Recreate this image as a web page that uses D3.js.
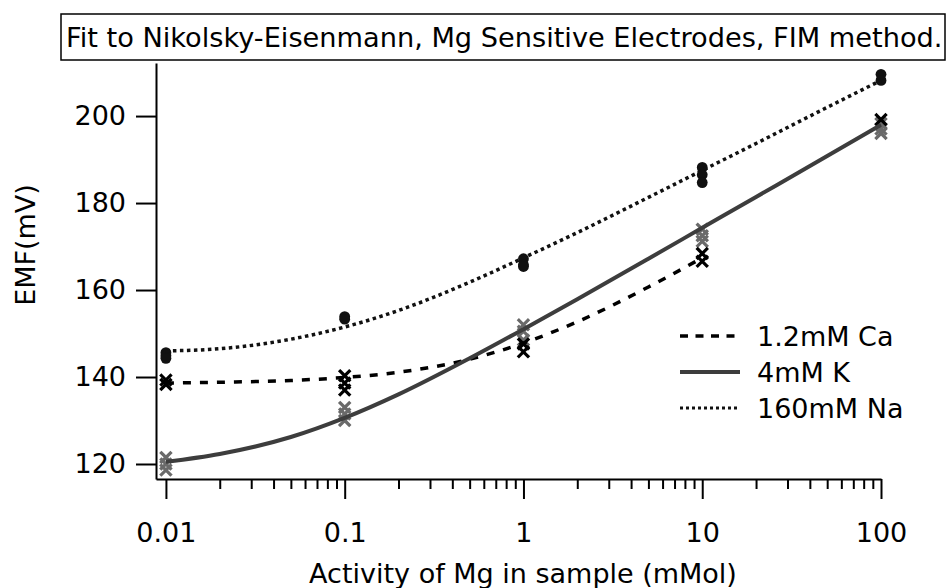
<!DOCTYPE html>
<html>
<head>
<meta charset="utf-8">
<script src="https://cdn.jsdelivr.net/npm/d3@7"></script>
<style>
  body { margin: 0; background: #fff; }
  text { font-family: "DejaVu Sans", sans-serif; fill: #000; }
</style>
</head>
<body>
<div id="chart"></div>
<script>
const width = 947;
const height = 588;

// Measured activities (mMol) and replicate EMF readings (mV)
const activities = [0.01, 0.1, 1, 10, 100];
const naEmf = [[145.6, 144.9, 144.3], [153.9, 153.3], [167.2, 165.8, 165.4], [188.2, 186.5, 184.7], [209.6, 208.2]];
const caEmf = [[139.3, 138.3], [140.3, 138.6, 137.0], [147.6, 145.8], [168.4, 166.6], [199.2]];
const kEmf = [[121.5, 120.0, 118.6], [133.0, 131.5, 130.0], [152.0, 150.5, 148.5], [174.0, 172.5, 171.2], [198.3, 197.0, 196.0]];

// Fitted Nikolsky-Eisenmann curves
const fitActivity = [0.01, 0.02, 0.05, 0.1, 0.2, 0.5, 1, 2, 5, 10, 20, 50, 100];
const naFit = [146.0, 146.5, 148.7, 151.5, 155.3, 161.8, 167.4, 173.2, 181.3, 187.5, 193.7, 202.0, 208.2];
const kFit = [120.5, 122.3, 126.2, 130.6, 136.0, 144.3, 151.0, 157.9, 167.2, 174.3, 181.4, 190.8, 198.0];
const caFit = [138.6, 138.8, 139.2, 139.9, 141.1, 144.1, 147.8, 152.7, 160.7, 167.4];

const xTicks = [0.01, 0.1, 1, 10, 100];
const yTicks = [120, 140, 160, 180, 200];
const legendLabels = ["1.2mM Ca", "4mM K", "160mM Na"];

const x = d3.scaleLog().domain([0.0088, 100]).range([156, 881]);
const y = d3.scaleLinear().domain([116.55, 212.2]).range([479, 63]);

const svg = d3.select("#chart").append("svg")
    .attr("width", width)
    .attr("height", height);

// title box
svg.append("rect")
    .attr("x", 61).attr("y", 14)
    .attr("width", 884).attr("height", 46)
    .attr("fill", "#fff").attr("stroke", "#000").attr("stroke-width", 1.5);
svg.append("text")
    .attr("x", 66).attr("y", 47)
    .style("font-size", "27.2px")
    .text("Fit to Nikolsky-Eisenmann, Mg Sensitive Electrodes, FIM method.");

// axes
const minorTicks = [];
for (let d = 0.01; d < 100; d *= 10) {
    for (let k = 2; k <= 9; k++) minorTicks.push(d * k);
}

svg.append("g")
    .attr("transform", "translate(0,479)")
    .call(d3.axisBottom(x).tickValues(xTicks).tickFormat(d => String(d))
        .tickSize(20).tickSizeOuter(0).tickPadding(24));
svg.append("g")
    .attr("transform", "translate(0,479)")
    .call(d3.axisBottom(x).tickValues(minorTicks).tickFormat("")
        .tickSize(10).tickSizeOuter(0))
    .select(".domain").remove();

svg.append("g")
    .attr("transform", "translate(156,0)")
    .call(d3.axisLeft(y).tickValues(yTicks)
        .tickSize(20).tickSizeOuter(0).tickPadding(10));

svg.selectAll(".tick line, .domain")
    .attr("stroke", "#000").attr("stroke-width", 2);
svg.selectAll(".tick text")
    .style("font-size", "27px")
    .style("font-family", "DejaVu Sans, sans-serif")
    .attr("fill", "#000");

svg.append("text")
    .attr("x", 523).attr("y", 583)
    .attr("text-anchor", "middle")
    .style("font-size", "27px")
    .text("Activity of Mg in sample (mMol)");
svg.append("text")
    .attr("transform", "translate(35,245) rotate(-90)")
    .attr("text-anchor", "middle")
    .style("font-size", "27px")
    .text("EMF(mV)");

// markers
function flatten(emf) {
    const out = [];
    emf.forEach((vals, i) => vals.forEach(v => out.push([activities[i], v])));
    return out;
}
const cross = 4.5;
function drawCrosses(data, color) {
    const g = svg.append("g").attr("stroke", color).attr("stroke-width", 3.2)
        .attr("stroke-linecap", "square");
    g.selectAll("path")
        .data(flatten(data))
        .join("path")
        .attr("d", d => {
            const cx = x(d[0]), cy = y(d[1]);
            return `M${cx - cross},${cy - cross}L${cx + cross},${cy + cross}` +
                   `M${cx - cross},${cy + cross}L${cx + cross},${cy - cross}`;
        });
}
drawCrosses(kEmf, "#6a6a6a");
drawCrosses(caEmf, "#000");
svg.append("g").selectAll("circle")
    .data(flatten(naEmf))
    .join("circle")
    .attr("cx", d => x(d[0]))
    .attr("cy", d => y(d[1]))
    .attr("r", 5.4)
    .attr("fill", "#111");

// fit lines
const line = d3.line()
    .x(d => x(d[0]))
    .y(d => y(d[1]))
    .curve(d3.curveMonotoneX);

const styles = [
    { fit: caFit, color: "#000", width: 3.5, dash: "8,9", legendDash: "8,7.5" },
    { fit: kFit, color: "#3d3d3d", width: 4, dash: null, legendDash: null },
    { fit: naFit, color: "#111", width: 3.5, dash: "3.5,3.5", legendDash: "3,3" }
];

styles.forEach(s => {
    svg.append("path")
        .datum(s.fit.map((v, i) => [fitActivity[i], v]))
        .attr("fill", "none")
        .attr("stroke", s.color)
        .attr("stroke-width", s.width)
        .attr("stroke-dasharray", s.dash)
        .attr("d", line);
});

// legend
const legend = svg.append("g").attr("transform", "translate(680,336)");
styles.forEach((s, i) => {
    const row = legend.append("g").attr("transform", `translate(0,${i * 36})`);
    row.append("line")
        .attr("x1", 0).attr("x2", 60)
        .attr("stroke", s.color)
        .attr("stroke-width", i === 2 ? 3 : s.width)
        .attr("stroke-dasharray", s.legendDash);
    row.append("text")
        .attr("x", 77).attr("y", 10)
        .style("font-size", "27px")
        .text(legendLabels[i]);
});
</script>
</body>
</html>
